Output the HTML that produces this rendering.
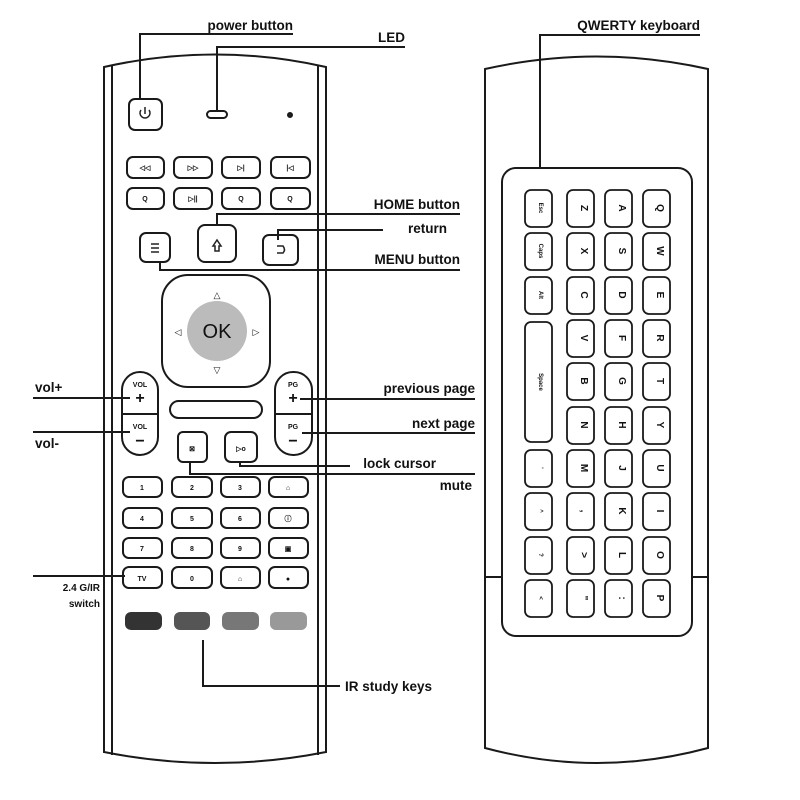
<!DOCTYPE html>
<html><head><meta charset="utf-8"><style>
body{margin:0;background:#fff}
svg{display:block}
text{font-family:"Liberation Sans",sans-serif;fill:#111}
</style></head><body>
<svg width="800" height="800" viewBox="0 0 800 800" xmlns="http://www.w3.org/2000/svg">
<g fill="none" stroke="#1a1a1a" stroke-width="2">
<!-- left remote -->
<path d="M104 67 Q215 42 326 67 L326 752 Q215 774 104 752 Z"/>
<path d="M112 66 L112 755 M318 66 L318 755"/>
<!-- right remote -->
<path d="M485 69 Q597 44 708 69 L708 748 Q597 778 485 748 Z"/>
<path d="M485 577 L502 577 M692 577 L708 577"/>
<rect x="502" y="168" width="190" height="468" rx="14"/>
<!-- power, LED -->
<rect x="129" y="99" width="33" height="31" rx="6"/>
<rect x="207" y="111" width="20" height="7" rx="3.5"/>
<circle cx="290" cy="115" r="2" fill="#222"/>
<!-- media rows -->
<g>
<rect x="127" y="157" width="37" height="21" rx="6"/><rect x="174" y="157" width="38" height="21" rx="6"/><rect x="222" y="157" width="38" height="21" rx="6"/><rect x="271" y="157" width="39" height="21" rx="6"/>
<rect x="127" y="188" width="37" height="21" rx="6"/><rect x="174" y="188" width="38" height="21" rx="6"/><rect x="222" y="188" width="38" height="21" rx="6"/><rect x="271" y="188" width="39" height="21" rx="6"/>
</g>
<rect x="140" y="233" width="30" height="29" rx="6"/>
<rect x="198" y="225" width="38" height="37" rx="7"/>
<rect x="263" y="235" width="35" height="30" rx="6"/>
<!-- OK pad -->
<rect x="162" y="275" width="108" height="112" rx="26"/>
<circle cx="217" cy="331" r="30" fill="#bbb" stroke="none"/>
<!-- vol and pg -->
<rect x="122" y="372" width="36" height="83" rx="18"/>
<line x1="122" y1="414" x2="158" y2="414"/>
<rect x="275" y="372" width="37" height="83" rx="18"/>
<line x1="275" y1="414" x2="312" y2="414"/>
<rect x="170" y="401" width="92" height="17" rx="8.5"/>
<rect x="178" y="432" width="29" height="30" rx="5"/>
<rect x="225" y="432" width="32" height="30" rx="6"/>
<!-- number keys -->
<g>
<rect x="123" y="477" width="39" height="20" rx="6"/><rect x="172" y="477" width="40" height="20" rx="6"/><rect x="221" y="477" width="39" height="20" rx="6"/><rect x="269" y="477" width="39" height="20" rx="6"/>
<rect x="123" y="508" width="39" height="20" rx="6"/><rect x="172" y="508" width="40" height="20" rx="6"/><rect x="221" y="508" width="39" height="20" rx="6"/><rect x="269" y="508" width="39" height="20" rx="6"/>
<rect x="123" y="538" width="39" height="20" rx="6"/><rect x="172" y="538" width="40" height="20" rx="6"/><rect x="221" y="538" width="39" height="20" rx="6"/><rect x="269" y="538" width="39" height="20" rx="6"/>
<rect x="123" y="567" width="39" height="21" rx="6"/><rect x="172" y="567" width="40" height="21" rx="6"/><rect x="221" y="567" width="39" height="21" rx="6"/><rect x="269" y="567" width="39" height="21" rx="6"/>
</g>
<!-- connectors -->
<polyline points="140,98 140,34 293,34"/>
<polyline points="217,110 217,47 405,47"/>
<polyline points="217,225 217,214 460,214"/>
<polyline points="278,240 278,230 383,230"/>
<polyline points="160,262 160,270 460,270"/>
<line x1="300" y1="399" x2="475" y2="399"/>
<line x1="302" y1="433" x2="475" y2="433"/>
<polyline points="240,462 240,466 350,466"/>
<polyline points="190,462 190,474 475,474"/>
<line x1="33" y1="398" x2="130" y2="398"/>
<line x1="33" y1="432" x2="130" y2="432"/>
<line x1="33" y1="576" x2="125" y2="576"/>
<polyline points="203,640 203,686 340,686"/>
<polyline points="540,168 540,35 700,35"/>
</g>
<!-- IR keys -->
<rect x="125" y="612" width="37" height="18" rx="6" fill="#333"/>
<rect x="174" y="612" width="36" height="18" rx="6" fill="#555"/>
<rect x="222" y="612" width="37" height="18" rx="6" fill="#777"/>
<rect x="270" y="612" width="37" height="18" rx="6" fill="#999"/>
<!-- icons -->
<g fill="none" stroke="#222" stroke-width="1.5">
<path d="M141 110 A5 5 0 1 0 149 110 M145 107 L145 114"/>
<path d="M213 246 L217 240 L221 246 L219 246 L219 251 L215 251 L215 246 Z"/>
<path d="M277 246 L283 246 Q286 250 283 253 L277 253"/>
<path d="M151 244 L159 244 M151 248 L159 248 M151 252 L159 252"/>
</g>
<g font-size="7" font-weight="bold" text-anchor="middle">
<text x="145" y="170">◁◁</text><text x="193" y="170">▷▷</text><text x="241" y="170">▷|</text><text x="290" y="170">|◁</text>
<text x="145" y="201">Q</text><text x="193" y="201">▷||</text><text x="241" y="201">Q</text><text x="290" y="201">Q</text>
<text x="142" y="490">1</text><text x="192" y="490">2</text><text x="240" y="490">3</text><text x="288" y="490">⌂</text>
<text x="142" y="521">4</text><text x="192" y="521">5</text><text x="240" y="521">6</text><text x="288" y="521">ⓘ</text>
<text x="142" y="551">7</text><text x="192" y="551">8</text><text x="240" y="551">9</text><text x="288" y="551">▣</text>
<text x="142" y="581">TV</text><text x="192" y="581">0</text><text x="240" y="581">⌂</text><text x="288" y="581">●</text>
<text x="140" y="387">VOL</text><text x="293" y="387">PG</text><text x="140" y="429">VOL</text><text x="293" y="429">PG</text>
<text x="192" y="451">⊠</text><text x="241" y="451">▷o</text>
</g>
<g font-size="16" font-weight="bold" text-anchor="middle">
<text x="140" y="403">+</text><text x="293" y="403">+</text><text x="140" y="446">−</text><text x="293" y="446">−</text>
</g>
<text x="217" y="338" font-size="20" text-anchor="middle">OK</text>
<g font-size="9" text-anchor="middle" fill="#222"><text x="217" y="298">△</text><text x="217" y="373">▽</text><text x="178" y="335">◁</text><text x="256" y="335">▷</text></g>
<!-- keyboard keys -->
<g fill="none" stroke="#1a1a1a" stroke-width="1.8">
<rect x="525" y="190" width="27" height="37" rx="6"/><rect x="525" y="233" width="27" height="37" rx="6"/><rect x="525" y="277" width="27" height="37" rx="6"/>
<rect x="525" y="322" width="27" height="120" rx="6"/>
<rect x="525" y="450" width="27" height="37" rx="6"/><rect x="525" y="493" width="27" height="37" rx="6"/><rect x="525" y="537" width="27" height="37" rx="6"/><rect x="525" y="580" width="27" height="37" rx="6"/>
<rect x="567" y="190" width="27" height="37" rx="6"/><rect x="567" y="233" width="27" height="37" rx="6"/><rect x="567" y="277" width="27" height="37" rx="6"/><rect x="567" y="320" width="27" height="37" rx="6"/><rect x="567" y="363" width="27" height="37" rx="6"/><rect x="567" y="407" width="27" height="37" rx="6"/><rect x="567" y="450" width="27" height="37" rx="6"/><rect x="567" y="493" width="27" height="37" rx="6"/><rect x="567" y="537" width="27" height="37" rx="6"/><rect x="567" y="580" width="27" height="37" rx="6"/>
<rect x="605" y="190" width="27" height="37" rx="6"/><rect x="605" y="233" width="27" height="37" rx="6"/><rect x="605" y="277" width="27" height="37" rx="6"/><rect x="605" y="320" width="27" height="37" rx="6"/><rect x="605" y="363" width="27" height="37" rx="6"/><rect x="605" y="407" width="27" height="37" rx="6"/><rect x="605" y="450" width="27" height="37" rx="6"/><rect x="605" y="493" width="27" height="37" rx="6"/><rect x="605" y="537" width="27" height="37" rx="6"/><rect x="605" y="580" width="27" height="37" rx="6"/>
<rect x="643" y="190" width="27" height="37" rx="6"/><rect x="643" y="233" width="27" height="37" rx="6"/><rect x="643" y="277" width="27" height="37" rx="6"/><rect x="643" y="320" width="27" height="37" rx="6"/><rect x="643" y="363" width="27" height="37" rx="6"/><rect x="643" y="407" width="27" height="37" rx="6"/><rect x="643" y="450" width="27" height="37" rx="6"/><rect x="643" y="493" width="27" height="37" rx="6"/><rect x="643" y="537" width="27" height="37" rx="6"/><rect x="643" y="580" width="27" height="37" rx="6"/>
</g>
<g font-size="10" font-weight="bold" text-anchor="middle">
<text transform="translate(657,208) rotate(90)">Q</text><text transform="translate(657,251) rotate(90)">W</text><text transform="translate(657,295) rotate(90)">E</text><text transform="translate(657,338) rotate(90)">R</text><text transform="translate(657,381) rotate(90)">T</text><text transform="translate(657,425) rotate(90)">Y</text><text transform="translate(657,468) rotate(90)">U</text><text transform="translate(657,511) rotate(90)">I</text><text transform="translate(657,555) rotate(90)">O</text><text transform="translate(657,598) rotate(90)">P</text>
<text transform="translate(619,208) rotate(90)">A</text><text transform="translate(619,251) rotate(90)">S</text><text transform="translate(619,295) rotate(90)">D</text><text transform="translate(619,338) rotate(90)">F</text><text transform="translate(619,381) rotate(90)">G</text><text transform="translate(619,425) rotate(90)">H</text><text transform="translate(619,468) rotate(90)">J</text><text transform="translate(619,511) rotate(90)">K</text><text transform="translate(619,555) rotate(90)">L</text><text transform="translate(619,598) rotate(90)">:</text>
<text transform="translate(581,208) rotate(90)">Z</text><text transform="translate(581,251) rotate(90)">X</text><text transform="translate(581,295) rotate(90)">C</text><text transform="translate(581,338) rotate(90)">V</text><text transform="translate(581,381) rotate(90)">B</text><text transform="translate(581,425) rotate(90)">N</text><text transform="translate(581,468) rotate(90)">M</text><text transform="translate(581,511) rotate(90)">,</text><text transform="translate(581,555) rotate(90)">&gt;</text><text transform="translate(581,598) rotate(90)">"</text>
</g>
<g font-size="6" font-weight="bold" text-anchor="middle">
<text transform="translate(539,208) rotate(90)">Esc</text><text transform="translate(539,251) rotate(90)">Caps</text><text transform="translate(539,295) rotate(90)">Alt</text><text transform="translate(539,382) rotate(90)">Space</text><text transform="translate(539,468) rotate(90)">'</text><text transform="translate(539,511) rotate(90)">^</text><text transform="translate(539,555) rotate(90)">?</text><text transform="translate(539,598) rotate(90)">&lt;</text>
</g>
<!-- labels -->
<g font-size="13.5" font-weight="bold">
<text x="293" y="30" text-anchor="end">power button</text>
<text x="405" y="42" text-anchor="end">LED</text>
<text x="460" y="209" text-anchor="end">HOME button</text>
<text x="447" y="233" text-anchor="end">return</text>
<text x="460" y="264" text-anchor="end">MENU button</text>
<text x="475" y="393" text-anchor="end">previous page</text>
<text x="475" y="428" text-anchor="end">next page</text>
<text x="436" y="468" text-anchor="end">lock cursor</text>
<text x="472" y="490" text-anchor="end">mute</text>
<text x="35" y="392">vol+</text>
<text x="35" y="448">vol-</text>
<text x="345" y="691">IR study keys</text>
<text x="700" y="30" text-anchor="end">QWERTY keyboard</text>
</g>
<g font-size="10" font-weight="bold" text-anchor="end">
<text x="100" y="591">2.4 G/IR</text>
<text x="100" y="607">switch</text>
</g>
</svg>
</body></html>
